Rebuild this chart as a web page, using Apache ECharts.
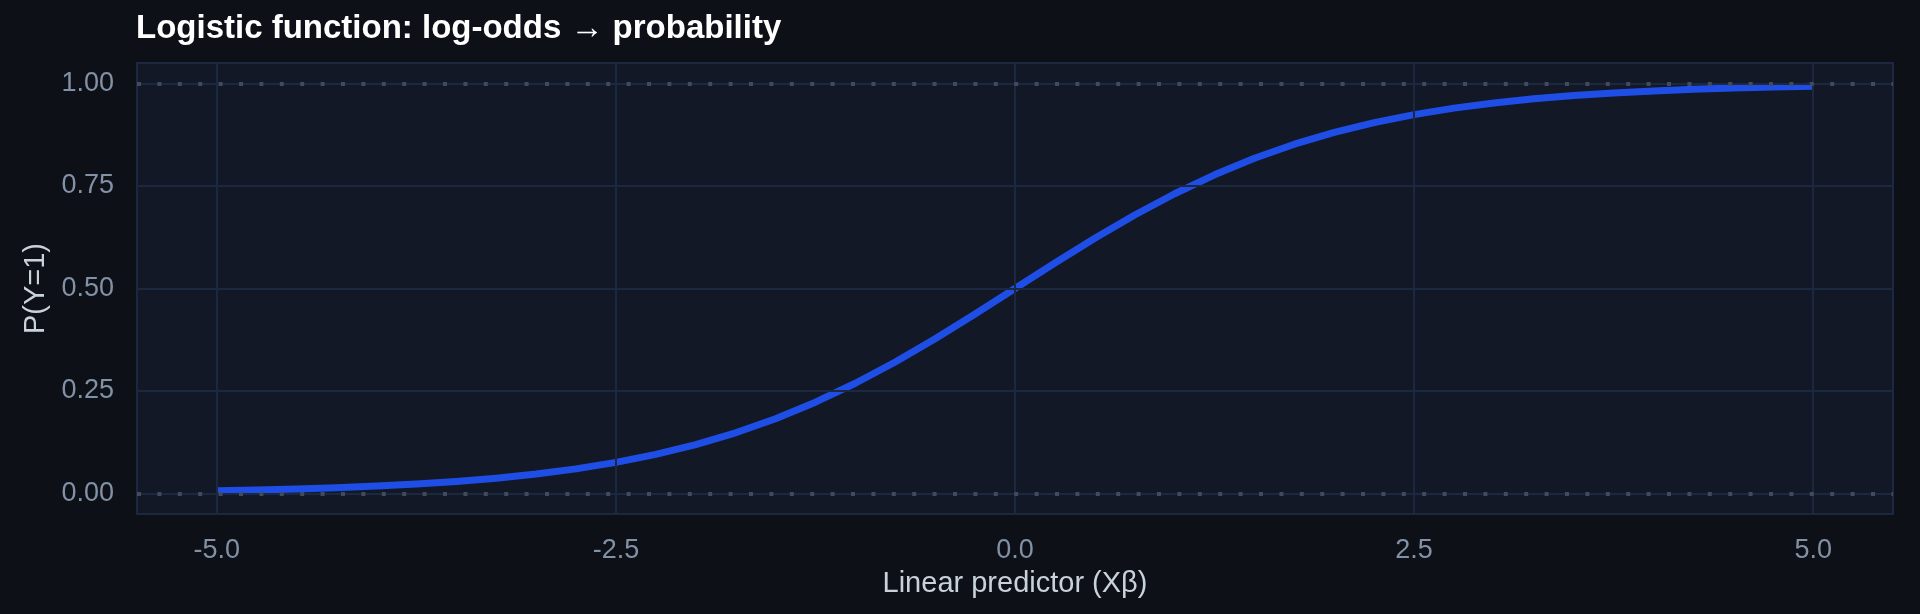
<!DOCTYPE html>
<html>
<head>
<meta charset="utf-8">
<script src="https://cdn.jsdelivr.net/npm/echarts@6/dist/echarts.min.js"></script>
<style>
  html, body { margin: 0; padding: 0; background: #0d1117; }
  #chart { width: 1920px; height: 614px; }
</style>
</head>
<body>
<div id="chart"></div>
<script>
// Data
const xValues = [-5, -4.75, -4.5, -4.25, -4, -3.75, -3.5, -3.25, -3, -2.75, -2.5, -2.25, -2, -1.75, -1.5, -1.25, -1, -0.75, -0.5, -0.25,
  0, 0.25, 0.5, 0.75, 1, 1.25, 1.5, 1.75, 2, 2.25, 2.5, 2.75, 3, 3.25, 3.5, 3.75, 4, 4.25, 4.5, 4.75, 5];
const probValues = [0.0067, 0.0086, 0.0110, 0.0140, 0.0180, 0.0230, 0.0293, 0.0373, 0.0474, 0.0601, 0.0759, 0.0953, 0.1192, 0.1480, 0.1824, 0.2227, 0.2689, 0.3208, 0.3775, 0.4378,
  0.5, 0.5622, 0.6225, 0.6792, 0.7311, 0.7773, 0.8176, 0.8520, 0.8808, 0.9047, 0.9241, 0.9399, 0.9526, 0.9627, 0.9707, 0.9770, 0.9820, 0.9860, 0.9890, 0.9914, 0.9933];
const xTicks = [-5, -2.5, 0, 2.5, 5];
const yTicks = [0, 0.25, 0.5, 0.75, 1];
const refLines = [0, 1];
const xRange = [-5.5, 5.5];
const yRange = [-0.05, 1.05];

const titleText = 'Logistic function: log-odds \u2192 probability';
const xTitle = 'Linear predictor (X\u03b2)';
const yTitle = 'P(Y=1)';

const gridColor = '#1c2740';
const font = '"Liberation Sans", Arial, Helvetica, sans-serif';

const chart = echarts.init(document.getElementById('chart'), null, { renderer: 'canvas' });

const curveData = xValues.map((x, i) => [x, probValues[i]]);

const option = {
  backgroundColor: '#0d1117',
  animation: false,
  title: {
    text: titleText,
    left: 131,
    top: 7,
    textStyle: { color: '#ffffff', fontSize: 33, fontWeight: 'bold', fontFamily: font }
  },
  grid: {
    left: 137, right: 27, top: 63, bottom: 100,
    show: true,
    backgroundColor: '#121826',
    borderColor: gridColor,
    borderWidth: 2
  },
  xAxis: {
    type: 'value',
    min: xRange[0], max: xRange[1],
    name: xTitle,
    nameLocation: 'middle',
    nameGap: 55,
    nameTextStyle: { color: '#c9d1d9', fontSize: 29, fontFamily: font },
    axisLine: { show: false },
    axisTick: { show: true, length: 8, customValues: xTicks, lineStyle: { color: gridColor, width: 2 } },
    axisLabel: {
      customValues: xTicks,
      color: '#8391a7', fontSize: 27, fontFamily: font, margin: 23,
      formatter: v => v.toFixed(1)
    },
    splitLine: { show: false }
  },
  yAxis: {
    type: 'value',
    min: yRange[0], max: yRange[1],
    name: yTitle,
    nameLocation: 'middle',
    nameGap: 85,
    nameTextStyle: { color: '#c9d1d9', fontSize: 29, fontFamily: font },
    axisLine: { show: false },
    axisTick: { show: true, length: 8, customValues: yTicks, lineStyle: { color: gridColor, width: 2 } },
    axisLabel: {
      customValues: yTicks,
      color: '#8391a7', fontSize: 27, fontFamily: font, margin: 23,
      formatter: v => v.toFixed(2)
    },
    splitLine: { show: false }
  },
  series: [
    {
      name: 'grid',
      type: 'line',
      data: [],
      z: 1,
      silent: true,
      markLine: {
        silent: true,
        symbol: ['none', 'none'],
        label: { show: false },
        emphasis: { disabled: true },
        lineStyle: { color: gridColor, width: 2, type: 'solid' },
        data: xTicks.map(v => ({ xAxis: v })).concat(yTicks.map(v => ({ yAxis: v })))
      }
    },
    {
      name: 'logistic',
      type: 'line',
      data: curveData,
      z: 2,
      smooth: false,
      showSymbol: false,
      symbol: 'none',
      lineStyle: { color: '#1f4ee6', width: 7, cap: 'butt', join: 'round' }
    },
    {
      name: 'refs',
      type: 'line',
      data: [],
      z: 3,
      silent: true,
      markLine: {
        silent: true,
        symbol: ['none', 'none'],
        label: { show: false },
        emphasis: { disabled: true },
        lineStyle: { color: '#414b5c', width: 4, type: [4, 16.4], cap: 'butt' },
        data: refLines.map(v => ({ yAxis: v }))
      }
    }
  ]
};

chart.setOption(option);
</script>
</body>
</html>
